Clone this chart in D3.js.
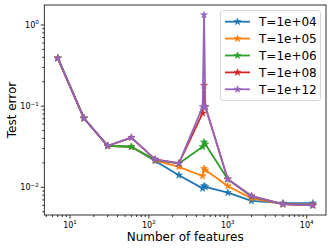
<!DOCTYPE html>
<html>
<head>
<meta charset="utf-8">
<style>
  body { margin: 0; background: #fff; }
  svg { display: block; font-family: "DejaVu Sans", sans-serif; }
</style>
</head>
<body>
<div id="chart"></div>
<script src="https://d3js.org/d3.v7.min.js"></script>
<script>
  // data
  const features = [7, 15, 30, 60, 120, 240, 480, 500, 520, 1000, 2000, 5000, 12000];
  const err1e4  = [0.39, 0.071, 0.0324, 0.0316, 0.0211, 0.0141, 0.0097, 0.0104, 0.0101, 0.0086, 0.0068, 0.0064, 0.0064];
  const err1e5  = [0.39, 0.071, 0.0324, 0.0316, 0.0215, 0.0179, 0.0138, 0.0170, 0.0163, 0.0104, 0.0073, 0.0062, 0.0061];
  const err1e6  = [0.39, 0.071, 0.0324, 0.0316, 0.0218, 0.0197, 0.0316, 0.0360, 0.0340, 0.0126, 0.0077, 0.0062, 0.0060];
  const err1e8  = [0.39, 0.071, 0.0324, 0.0410, 0.0221, 0.0197, 0.0820, 0.1800, 0.0980, 0.0126, 0.0078, 0.0062, 0.0060];
  const err1e12 = [0.39, 0.071, 0.0324, 0.0410, 0.0221, 0.0197, 0.0980, 1.3300, 0.0990, 0.0126, 0.0078, 0.0062, 0.0060];
  const labels = ["T=1e+04", "T=1e+05", "T=1e+06", "T=1e+08", "T=1e+12"];
  const colors = ["#1f77b4", "#ff7f0e", "#2ca02c", "#d62728", "#9467bd"];
  const series = [err1e4, err1e5, err1e6, err1e8, err1e12];
  const xTicks = [10, 100, 1000, 10000];
  const yTicks = [0.01, 0.1, 1];

  const W = 332, H = 250;
  const mLeft = 44.3, mRight = 326, mTop = 5, mBottom = 215;

  const svg = d3.select('#chart').append('svg')
    .attr('width', W).attr('height', H);

  const x = d3.scaleLog().domain([Math.pow(10, 0.674), Math.pow(10, 4.245)]).range([mLeft, mRight]);
  const y = d3.scaleLog().domain([Math.pow(10, -2.341), Math.pow(10, 0.246)]).range([mBottom, mTop]);

  // minor ticks
  const same = (a, b) => Math.abs(Math.log10(a) - Math.log10(b)) < 1e-6;
  const xMinor = x.ticks().filter(v => !xTicks.some(t => same(t, v)));
  const yMinor = y.ticks().filter(v => !yTicks.some(t => same(t, v)));

  const axes = svg.append('g').attr('stroke', '#000').attr('stroke-width', 0.8);
  axes.selectAll('.xmin').data(xMinor).enter().append('line')
    .attr('x1', d => x(d)).attr('x2', d => x(d))
    .attr('y1', mBottom).attr('y2', mBottom + 2);
  axes.selectAll('.xmaj').data(xTicks).enter().append('line')
    .attr('x1', d => x(d)).attr('x2', d => x(d))
    .attr('y1', mBottom).attr('y2', mBottom + 3.5);
  axes.selectAll('.ymin').data(yMinor).enter().append('line')
    .attr('y1', d => y(d)).attr('y2', d => y(d))
    .attr('x1', mLeft).attr('x2', mLeft - 2);
  axes.selectAll('.ymaj').data(yTicks).enter().append('line')
    .attr('y1', d => y(d)).attr('y2', d => y(d))
    .attr('x1', mLeft).attr('x2', mLeft - 3.5);

  // tick labels as 10 with superscript
  const exp = d => Math.round(Math.log10(d));
  const xl = svg.selectAll('.xl').data(xTicks).enter().append('text')
    .attr('x', d => x(d)).attr('y', mBottom + 12.5)
    .attr('text-anchor', 'middle').attr('font-size', 8).attr('fill', '#000');
  xl.append('tspan').text('10');
  xl.append('tspan').attr('dy', -3.5).attr('font-size', 5.6).text(d => exp(d));

  const yl = svg.selectAll('.yl').data(yTicks).enter().append('text')
    .attr('x', mLeft - 5.5).attr('y', d => y(d) + 3)
    .attr('text-anchor', 'end').attr('font-size', 8).attr('fill', '#000');
  yl.append('tspan').text('10');
  yl.append('tspan').attr('dy', -3.5).attr('font-size', 5.6)
    .text(d => exp(d) < 0 ? '\u2212' + (-exp(d)) : exp(d));

  // axis titles
  svg.append('text').attr('x', (mLeft + mRight) / 2).attr('y', 241)
    .attr('text-anchor', 'middle').attr('font-size', 12).text('Number of features');
  svg.append('text').attr('transform', `translate(16,${(mTop + mBottom) / 2}) rotate(-90)`)
    .attr('text-anchor', 'middle').attr('font-size', 12).text('Test error');

  // lines + star markers
  const line = d3.line().x(d => x(d[0])).y(d => y(d[1]));
  const star = d3.symbol().type(d3.symbolStar).size(15);
  const plot = svg.append('g');
  series.forEach((vals, i) => {
    const pts = features.map((f, j) => [f, vals[j]]);
    const g = plot.append('g');
    g.append('path').datum(pts).attr('d', line)
      .attr('fill', 'none').attr('stroke', colors[i]).attr('stroke-width', 1.8)
      .attr('stroke-linejoin', 'round');
    g.selectAll('path.m').data(pts).enter().append('path').attr('class', 'm')
      .attr('d', star)
      .attr('transform', d => `translate(${x(d[0])},${y(d[1])})`)
      .attr('fill', colors[i]).attr('stroke', colors[i]).attr('stroke-width', 0.6);
  });

  // frame
  svg.append('rect').attr('x', mLeft).attr('y', mTop)
    .attr('width', mRight - mLeft).attr('height', mBottom - mTop)
    .attr('fill', 'none').attr('stroke', '#000').attr('stroke-width', 0.8);

  // legend
  const lg = svg.append('g').attr('transform', 'translate(220.5,10.5)');
  lg.append('rect').attr('width', 100).attr('height', 90).attr('rx', 2.5)
    .attr('fill', '#fff').attr('fill-opacity', 0.8)
    .attr('stroke', '#ccc').attr('stroke-width', 0.8);
  labels.forEach((lab, i) => {
    const yy = 11.2 + i * 16.9;
    lg.append('line').attr('x1', 4.5).attr('x2', 29.5).attr('y1', yy).attr('y2', yy)
      .attr('stroke', colors[i]).attr('stroke-width', 1.8);
    lg.append('path').attr('d', star).attr('transform', `translate(17,${yy})`)
      .attr('fill', colors[i]).attr('stroke', colors[i]).attr('stroke-width', 0.6);
    lg.append('text').attr('x', 38.5).attr('y', yy + 4.3)
      .attr('font-size', 12).text(lab);
  });
</script>
</body>
</html>
